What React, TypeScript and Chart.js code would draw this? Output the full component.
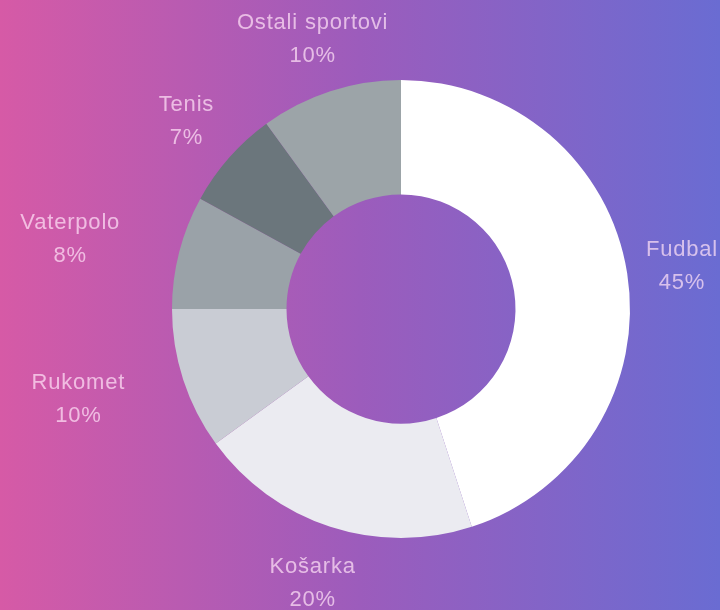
import React, { useEffect, useRef } from "react";
import { Chart, registerables } from "chart.js";

Chart.register(...registerables);

const categories = ["Fudbal", "Košarka", "Rukomet", "Vaterpolo", "Tenis", "Ostali sportovi"];
const shares = [45, 20, 10, 8, 7, 10];
const percentLabels = ["45%", "20%", "10%", "8%", "7%", "10%"];
const sliceColors = ["#ffffff", "#ebebf1", "#c9ccd4", "#9aa2a8", "#6b767c", "#9ca4a8"];

const W = 720;
const H = 610;

const outerLabels = {
  id: "outerLabels",
  afterDatasetsDraw(chart: any) {
    const ctx = chart.ctx as CanvasRenderingContext2D;
    const meta = chart.getDatasetMeta(0);
    ctx.save();
    ctx.font = '22px "Liberation Sans", Arial, sans-serif';
    (ctx as any).letterSpacing = "0.8px";
    ctx.fillStyle = "rgba(255, 226, 246, 0.72)";
    ctx.textBaseline = "middle";
    const lineGap = 33;
    meta.data.forEach((arc: any, i: number) => {
      const p = arc.getProps(["x", "y", "startAngle", "endAngle", "outerRadius"], true);
      const mid = (p.startAngle + p.endAngle) / 2;
      const dx = Math.cos(mid);
      const dy = Math.sin(mid);
      const lines = [categories[i], percentLabels[i]];
      const w = Math.max(...lines.map((t) => ctx.measureText(t).width));
      const dist = p.outerRadius + 57;
      let cxText: number;
      if (Math.abs(dx) > 0.85) {
        const edge = p.x + dx * (p.outerRadius + 61);
        cxText = dx < 0 ? edge - w / 2 : edge + w / 2;
      } else {
        cxText = p.x + dx * dist;
      }
      cxText = Math.min(W - 2 - w / 2, Math.max(2 + w / 2, cxText));
      const cyText = p.y + dy * dist + 2;
      ctx.textAlign = "center";
      ctx.fillText(lines[0], cxText, cyText - lineGap / 2);
      ctx.fillText(lines[1], cxText, cyText + lineGap / 2);
    });
    ctx.restore();
  },
};

export default function App() {
  const ref = useRef<HTMLCanvasElement>(null);
  useEffect(() => {
    document.body.style.margin = "0";
    const chart = new Chart(ref.current!, {
      type: "doughnut",
      data: {
        labels: categories,
        datasets: [
          {
            data: shares,
            backgroundColor: sliceColors,
            borderWidth: 0,
          },
        ],
      },
      options: {
        animation: false,
        responsive: false,
        cutout: "50%",
        layout: { padding: { left: 172, right: 90, top: 80, bottom: 72 } },
        plugins: {
          legend: { display: false },
          tooltip: { enabled: false },
        },
      },
      plugins: [outerLabels],
    });
    return () => chart.destroy();
  }, []);
  return (
    <div
      style={{
        width: W,
        height: H,
        background: "linear-gradient(to right, #d65aa6 0%, #9c5cbc 50%, #6a6cd2 100%)",
      }}
    >
      <canvas ref={ref} width={W} height={H} style={{ display: "block" }} />
    </div>
  );
}
